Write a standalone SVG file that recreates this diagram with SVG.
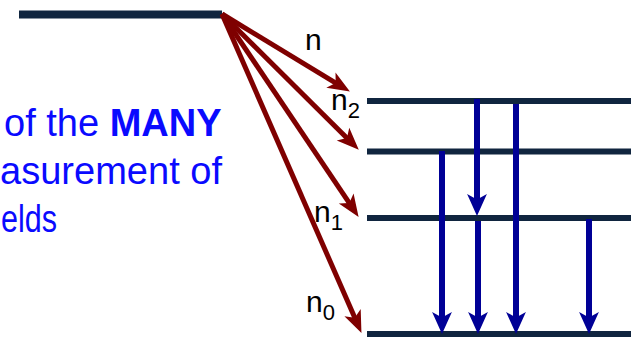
<svg xmlns="http://www.w3.org/2000/svg" width="631" height="337" viewBox="0 0 631 337">
  <style>
    .level { stroke: #10253f; stroke-width: 6; fill: none; }
    .red { stroke: #7f0000; stroke-width: 5; fill: none; marker-end: url(#redHead); }
    .blue { stroke: #000096; stroke-width: 6; fill: none; marker-end: url(#blueHead); }
    .lbl { font-family: "Liberation Sans", Arial, sans-serif; font-size: 30px; fill: #000; }
    .sub { font-size: 22px; }
    .txt { font-family: "Liberation Sans", Arial, sans-serif; font-size: 38px; fill: #0a0aff; }
  </style>
  <defs>
    <marker id="redHead" markerUnits="userSpaceOnUse" markerWidth="24" markerHeight="20" viewBox="0 -9 20 18" refX="10" refY="0" orient="auto">
      <path d="M0,-8 L20,0 L0,8 L5,0 z" fill="#7f0000"/>
    </marker>
    <marker id="blueHead" markerUnits="userSpaceOnUse" markerWidth="24" markerHeight="22" viewBox="0 -10 20 20" refX="10" refY="0" orient="auto">
      <path d="M0,-9 L20,0 L0,9 L5,0 z" fill="#000096"/>
    </marker>
  </defs>

  <g id="text-block">
    <text class="txt" x="4" y="136">of the <tspan font-weight="bold">MANY</tspan></text>
    <text class="txt" x="0" y="184" textLength="222" lengthAdjust="spacingAndGlyphs">asurement of</text>
    <text class="txt" x="1" y="232" textLength="56" lengthAdjust="spacingAndGlyphs">elds</text>
  </g>

  <g id="level-n">
    <line class="level" x1="19" y1="14.5" x2="222" y2="14.5" style="stroke-width:8"/>
  </g>
  <g id="level-n2">
    <line class="level" x1="367" y1="101" x2="631" y2="101"/>
  </g>
  <g id="level-2">
    <line class="level" x1="367" y1="151.5" x2="631" y2="151.5"/>
  </g>
  <g id="level-n1">
    <line class="level" x1="367" y1="218" x2="631" y2="218"/>
  </g>
  <g id="level-n0">
    <line class="level" x1="367" y1="334" x2="631" y2="334"/>
  </g>

  <g id="labels">
    <text class="lbl" x="305" y="50">n</text>
    <text class="lbl" x="331" y="110">n<tspan class="sub" dy="8">2</tspan></text>
    <text class="lbl" x="314" y="222">n<tspan class="sub" dy="8">1</tspan></text>
    <text class="lbl" x="306" y="312">n<tspan class="sub" dy="8">0</tspan></text>
  </g>

  <g id="connectors">
    <line class="red" x1="222" y1="14" x2="340.4" y2="85.8"/>
    <line class="red" x1="222" y1="14" x2="350.9" y2="141.9"/>
    <line class="red" x1="222" y1="14" x2="352.4" y2="207.7"/>
    <line class="red" x1="222" y1="14" x2="357.0" y2="322.8"/>

    <line class="blue" x1="442" y1="151" x2="442" y2="323"/>
    <line class="blue" x1="477" y1="99" x2="477" y2="205"/>
    <line class="blue" x1="478" y1="221" x2="478" y2="323"/>
    <line class="blue" x1="516" y1="104" x2="516" y2="323"/>
    <line class="blue" x1="589" y1="219" x2="589" y2="323"/>
  </g>
</svg>
